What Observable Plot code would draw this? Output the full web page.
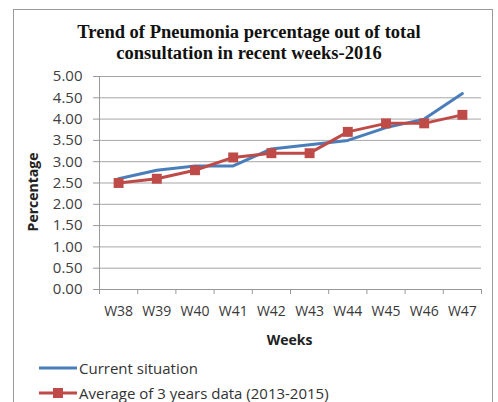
<!DOCTYPE html>
<html><head><meta charset="utf-8">
<script src="https://cdn.jsdelivr.net/npm/d3@7"></script>
<script src="https://cdn.jsdelivr.net/npm/@observablehq/plot@0.6"></script>
<style>
body{margin:0;background:#fff;}
#wrap{position:relative;width:498px;height:402px;overflow:hidden;font-family:"Open Sans",sans-serif;background:#fff;}
#frame{position:absolute;left:13px;top:9px;width:480px;height:430px;border:1px solid #9a9a9a;box-sizing:border-box;}
#title{position:absolute;left:0;top:22px;width:498px;text-align:center;font-family:"Liberation Serif","Times New Roman",serif;font-weight:bold;font-size:18.5px;line-height:21px;color:#111;}
#chart{position:absolute;left:0;top:60px;}
#ytitle{position:absolute;left:31.7px;top:192px;transform:translate(-50%,-50%) rotate(-90deg);font-weight:bold;font-size:14px;color:#222;white-space:nowrap;}
#xtitle{position:absolute;left:289.5px;top:339px;transform:translate(-50%,-50%);font-weight:bold;font-size:14px;color:#222;white-space:nowrap;}
.leg{position:absolute;left:39px;height:20px;display:flex;align-items:center;font-size:15px;color:#333;white-space:nowrap;}
.leg svg{margin-right:2px;}
</style>
</head><body>
<div id="wrap">
  <div id="frame"></div>
  <div id="title">Trend of Pneumonia percentage out of total<br>consultation in recent weeks-2016</div>
  <div id="chart"></div>
  <div id="ytitle">Percentage</div>
  <div id="xtitle">Weeks</div>
  <div class="leg" id="leg1" style="top:358px"></div>
  <div class="leg" id="leg2" style="top:383px"></div>
</div>
<script>
const weeks = ["W38","W39","W40","W41","W42","W43","W44","W45","W46","W47"];
const current = [2.6, 2.8, 2.9, 2.9, 3.3, 3.4, 3.5, 3.8, 4.0, 4.6];
const average = [2.5, 2.6, 2.8, 3.1, 3.2, 3.2, 3.7, 3.9, 3.9, 4.1];
const yTicks = [0, 0.5, 1, 1.5, 2, 2.5, 3, 3.5, 4, 4.5, 5];
const seriesNames = ["Current situation", "Average of 3 years data (2013-2015)"];
const colors = ["#4a7ebb", "#be4b48"];

const rows = weeks.map((w, i) => ({i, week: w, current: current[i], average: average[i]}));
const idx = d3.range(weeks.length);
const bounds = d3.range(weeks.length + 1).map(i => i - 0.5);

const chart = Plot.plot({
  width: 498, height: 300,
  marginLeft: 99, marginRight: 17, marginTop: 16, marginBottom: 71,
  style: {fontFamily: "Open Sans", fontSize: "13px", background: "transparent", overflow: "visible"},
  x: {type: "linear", domain: [-0.5, weeks.length - 0.5], axis: null},
  y: {domain: [0, 5], axis: null},
  marks: [
    Plot.gridY(yTicks, {stroke: "#a6a6a6", strokeOpacity: 1}),
    Plot.axisY(yTicks, {tickSize: 6, tickFormat: () => "", color: "#999", label: null}),
    Plot.axisY(yTicks, {tickSize: 0, tickPadding: 17, tickFormat: d => d.toFixed(2), fontSize: 15, color: "#404040", label: null}),
    Plot.axisX(bounds, {tickSize: 5, tickFormat: () => "", color: "#999", label: null}),
    Plot.axisX(idx, {tickSize: 0, tickPadding: 17, tickFormat: i => weeks[i], fontSize: 14, color: "#383838", label: null}),
    Plot.ruleX([-0.5], {stroke: "#999"}),
    Plot.ruleY([0], {stroke: "#999"}),
    Plot.line(rows, {x: "i", y: "current", stroke: colors[0], strokeWidth: 3}),
    Plot.line(rows, {x: "i", y: "average", stroke: colors[1], strokeWidth: 3}),
    Plot.dot(rows, {x: "i", y: "average", symbol: "square", r: 5.6, fill: colors[1], stroke: "none"})
  ]
});
document.getElementById("chart").appendChild(chart);

function swatch(color, marker) {
  const ns = "http://www.w3.org/2000/svg";
  const s = document.createElementNS(ns, "svg");
  s.setAttribute("width", 38); s.setAttribute("height", 12);
  const l = document.createElementNS(ns, "line");
  l.setAttribute("x1", 0); l.setAttribute("x2", 38); l.setAttribute("y1", 6); l.setAttribute("y2", 6);
  l.setAttribute("stroke", color); l.setAttribute("stroke-width", 3);
  s.appendChild(l);
  if (marker) {
    const r = document.createElementNS(ns, "rect");
    r.setAttribute("x", 14); r.setAttribute("y", 1); r.setAttribute("width", 10); r.setAttribute("height", 10);
    r.setAttribute("fill", color);
    s.appendChild(r);
  }
  return s;
}
[["leg1", 0, false], ["leg2", 1, true]].forEach(([id, k, m]) => {
  const el = document.getElementById(id);
  el.appendChild(swatch(colors[k], m));
  const t = document.createElement("span");
  t.textContent = seriesNames[k];
  el.appendChild(t);
});
</script>
</body></html>
